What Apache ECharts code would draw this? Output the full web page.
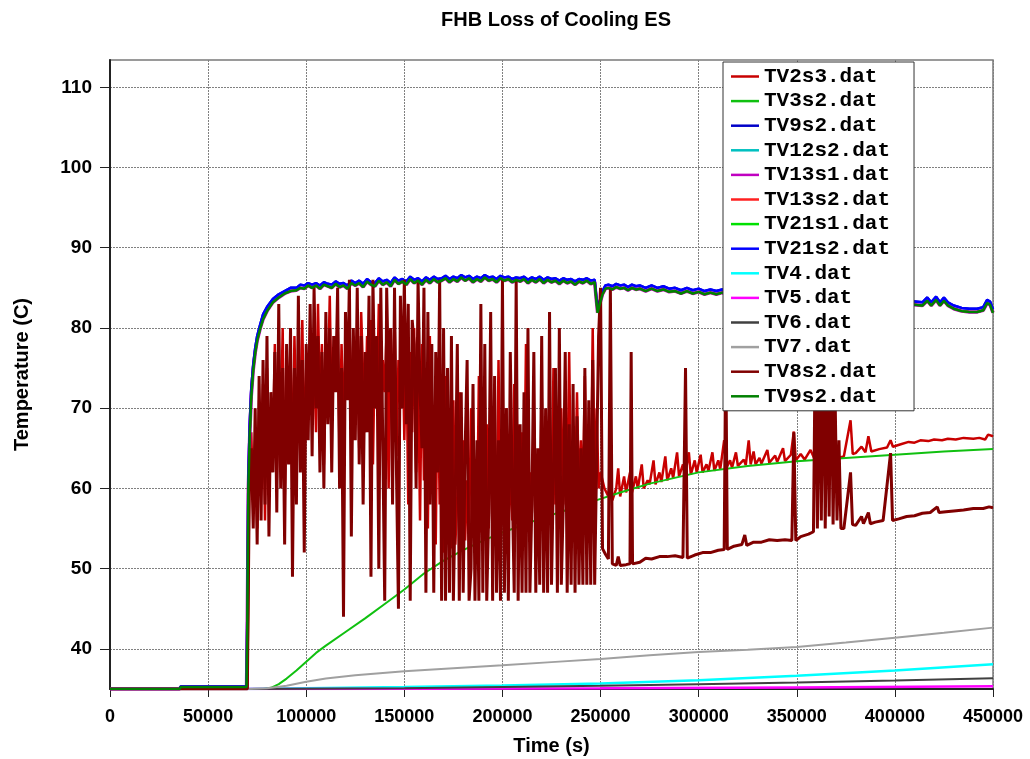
<!DOCTYPE html>
<html><head><meta charset="utf-8">
<script src="https://cdn.jsdelivr.net/npm/echarts@6/dist/echarts.min.js"></script>
<style>html,body{margin:0;padding:0;background:#fff}#c{width:1030px;height:759px}</style>
</head><body><div id="c"></div>
<script>
// ---------------- DATA ----------------
const titleText = 'FHB Loss of Cooling ES';
const xName = 'Time (s)';
const yName = 'Temperature (C)';
const yTicks = [40, 50, 60, 70, 80, 90, 100, 110];

const seriesNames = ['TV2s3.dat','TV3s2.dat','TV9s2.dat','TV12s2.dat','TV13s1.dat','TV13s2.dat','TV21s1.dat','TV21s2.dat','TV4.dat','TV5.dat','TV6.dat','TV7.dat','TV8s2.dat','TV9s2.dat '];
const seriesColors = ['#c80000','#10c010','#0000c8','#00c0c0','#c000c0','#ff2020','#00e000','#0000ff','#00ffff','#ff00ff','#404040','#a0a0a0','#800000','#008000'];

// upper edge of the ~85 C cluster (blue curves)
const clusterHigh = [[0,35.0],[35500,35.0],[36000,35.3],[69600,35.3],[70000,45],[70500,61.5],[71200,68],[72000,72.5],[73000,75.5],[74000,77.5],[75000,79],[76500,80.4],[78000,81.7],[80000,82.6],[83000,83.6],[86000,84.2],[89000,84.6],[92000,85.0],[95000,85.0],[97000,85.4],[99000,85.3],[101000,85.6],[103000,85.4],[105000,85.6],[107000,85.3],[109000,85.7],[111000,85.5],[113000,85.4],[115000,85.8],[117000,85.5],[119000,85.6],[121000,85.3],[123000,85.9],[125000,85.6],[127000,85.9],[129000,85.5],[131000,86.1],[133000,85.7],[135000,85.6],[137000,86.2],[139000,85.8],[141000,86.0],[143000,85.6],[145000,86.3],[147000,85.9],[149000,86.1],[151000,85.8],[153000,86.4],[155000,86.0],[157000,86.2],[159000,85.8],[161000,86.3],[163000,86.0],[165000,86.4],[167000,86.1],[169000,86.2],[171000,86.5],[173000,86.1],[175000,86.4],[177000,86.2],[179000,86.6],[181000,86.3],[183000,86.5],[185000,86.1],[187000,86.4],[189000,86.2],[191000,86.6],[193000,86.3],[195000,86.4],[197000,86.1],[199000,86.5],[201000,86.3],[203000,86.4],[205000,86.1],[207000,86.3],[209000,86.2],[211000,86.4],[213000,86.0],[215000,86.3],[217000,86.1],[219000,86.4],[221000,86.0],[223000,86.3],[225000,86.1],[227000,86.2],[229000,85.9],[231000,86.2],[233000,86.0],[235000,86.1],[237000,85.8],[239000,86.1],[241000,86.0],[243000,86.2],[245000,85.9],[247000,86.0],[247800,84],[248500,82.3],[249500,83.3],[251000,84.6],[252500,85.3],[254000,85.4],[256000,85.2],[258000,85.5],[260000,85.3],[262000,85.4],[264000,85.1],[266000,85.4],[268000,85.2],[270000,85.3],[273000,85.0],[276000,85.3],[279000,85.0],[282000,85.2],[285000,84.9],[288000,85.0],[291000,84.7],[294000,85.0],[297000,84.7],[300000,84.9],[303000,84.6],[306000,84.8],[309000,84.6],[312000,84.8],[315000,84.5],[318000,84.7],[321000,84.5],[324000,84.6],[327000,84.4],[330000,84.6],[335000,84.3],[340000,84.4],[345000,84.2],[350000,84.3],[355000,84.0],[360000,84.2],[365000,83.9],[370000,84.0],[375000,83.8],[380000,83.8],[385000,83.6],[390000,83.6],[395000,83.5],[400000,83.4],[405000,83.3],[410000,83.3],[414000,83.2],[416500,83.8],[418500,83.2],[421000,83.9],[423000,83.2],[425000,83.8],[427000,83.2],[430000,82.8],[434000,82.5],[438000,82.4],[442000,82.4],[445000,82.6],[447000,83.5],[448500,83.3],[450000,82.3]];

// lower edge of the ~85 C cluster (green / red / magenta curves)
const clusterLow = [[0,35.0],[35500,35.0],[36000,35.25],[69600,35.25],[70000,44],[70500,60],[71200,66.5],[72000,71.5],[73000,74.8],[74000,76.9],[75000,78.4],[76500,79.9],[78000,81.1],[80000,82.1],[83000,83.2],[86000,83.8],[89000,84.3],[92000,84.6],[95000,84.7],[97000,85.0],[99000,84.9],[101000,85.3],[103000,85.0],[105000,85.3],[107000,84.9],[109000,85.4],[111000,85.2],[113000,85.0],[115000,85.5],[117000,85.1],[119000,85.3],[121000,84.9],[123000,85.6],[125000,85.3],[127000,85.6],[129000,85.1],[131000,85.8],[133000,85.4],[135000,85.2],[137000,85.9],[139000,85.4],[141000,85.7],[143000,85.2],[145000,86.0],[147000,85.5],[149000,85.8],[151000,85.4],[153000,86.1],[155000,85.6],[157000,85.9],[159000,85.4],[161000,86.0],[163000,85.6],[165000,86.1],[167000,85.7],[169000,85.9],[171000,86.2],[173000,85.7],[175000,86.1],[177000,85.8],[179000,86.3],[181000,85.9],[183000,86.2],[185000,85.7],[187000,86.1],[189000,85.8],[191000,86.3],[193000,85.9],[195000,86.1],[197000,85.7],[199000,86.2],[201000,85.9],[203000,86.1],[205000,85.7],[207000,86.0],[209000,85.8],[211000,86.1],[213000,85.6],[215000,86.0],[217000,85.7],[219000,86.1],[221000,85.6],[223000,86.0],[225000,85.7],[227000,85.9],[229000,85.5],[231000,85.9],[233000,85.6],[235000,85.8],[237000,85.4],[239000,85.8],[241000,85.6],[243000,85.9],[245000,85.5],[247000,85.7],[247800,83.6],[248500,81.9],[249500,82.9],[251000,84.2],[252500,84.9],[254000,85.0],[256000,84.8],[258000,85.1],[260000,84.9],[262000,85.0],[264000,84.7],[266000,85.0],[268000,84.8],[270000,84.9],[273000,84.6],[276000,84.9],[279000,84.6],[282000,84.8],[285000,84.5],[288000,84.6],[291000,84.3],[294000,84.6],[297000,84.3],[300000,84.5],[303000,84.2],[306000,84.4],[309000,84.2],[312000,84.4],[315000,84.1],[318000,84.3],[321000,84.1],[324000,84.2],[327000,84.0],[330000,84.2],[335000,83.9],[340000,84.0],[345000,83.8],[350000,83.9],[355000,83.6],[360000,83.8],[365000,83.5],[370000,83.6],[375000,83.4],[380000,83.4],[385000,83.2],[390000,83.2],[395000,83.1],[400000,83.0],[405000,82.9],[410000,82.9],[414000,82.8],[416500,83.4],[418500,82.8],[421000,83.5],[423000,82.8],[425000,83.4],[427000,82.8],[430000,82.4],[434000,82.1],[438000,82.0],[442000,82.0],[445000,82.2],[447000,83.1],[448500,82.9],[450000,81.9]];

// oscillating part of TV2s3 and TV8s2: one reading every 1000 s from 71000 s to 250000 s
const noisyStart = 71000, noisyStep = 1000;
const tv2s3Noisy = [
62,67,58,66,55,71,60,73,56,75, 59,70,64,78,61,74,66,80,58,73, 65,77,61,79,67,74,70,81,64,75,
69,80,72,76,67,83,70,78,63,75, 72,84,68,76,74,81,64,78,69,77, 73,82,66,79,71,80,65,82,74,67,
79,72,81,63,78,70,83,66,76,72, 80,60,78,68,82,64,76,70,81,66, 79,58,77,67,80,62,75,56,78,61,
73,55,79,60,70,53,76,58,68,52, 74,53,64,52.5,71,53,59,72,53.5,66, 53.5,61,54,70,54,60,54,74,54.5,63,
54.5,68,55,72,55,61,55,76,55.5,64, 55.5,70,55.5,62,56,73,56,60,56,67, 56.5,78,56.5,62,57,70,57,61,57,72,
57.5,63,57.5,68,57.5,75,58,62,58,70, 58,64,58.5,77,58.5,63,58.5,72,59,66, 59,74,59,64,59.5,80,59.5,70,60,62];
const tv8s2Noisy = [
60,65,55,70,53,74,56,76,58,79, 54,72,62,77,57,83,60,75,53,78, 63,80,49,75,58,84,62,76,52,78,
66,83,64,85,70,79,62,77,60,82, 68,80,62,79,72,85,60,75,44,82, 71,86,54,80,66,85,63,79,58,77,
67,84,49,86,70,79,50,85,66,46, 85,72,80,58,85,62,45,84,70,86, 68,83,46,81,78,60,86,72,65,85,
47,82,58,78,47,77,62,86,46,80, 46,75,47,79,46,60,78,46,72,47, 65,76,46,50,73,46,66,46,83,47,
78,46,57,82,46,74,47,66,46,86, 47,70,46,77,60,47,86,46,68,47, 72,47,80,47,58,77,47,65,48,79,
47,70,47,82,48,62,75,47,80,48, 58,77,47,68,48,73,47,69,48,65, 48,75,48,71,48,76,48,48,79,85];

const tvFlatStart = [[0,35.0],[70000,35.0]];

const tv2s3Tail = [[251000,61],[252000,60],[254000,59],[255000,62],[256000,58.5],[258000,60],[259000,62.5],[260000,59],[262000,61.5],[263000,59.5],[265000,62],[266000,59.5],[268000,61.5],[269000,60],[271000,63],[272000,60],[274000,61],[275000,60.5],[277000,63.5],[278000,60.5],[280000,62],[281000,60.8],[283000,64],[284000,61],[286000,62.5],[287000,61.3],[289000,64.5],[290000,61.5],[292000,63],[293000,61.5],[295000,64.5],[296000,61.7],[298000,63.5],[299000,62],[301000,64.2],[302000,62],[304000,63],[305000,62.2],[307000,64.5],[308000,62.2],[310000,63.5],[311000,62.4],[313000,66],[314000,62.5],[316000,63.5],[317000,62.6],[319000,64.5],[320000,62.8],[323000,63.6],[324000,62.9],[325500,66],[326500,63],[328000,64.6],[329000,63],[331000,63.8],[332000,63.1],[335000,64.8],[336000,63.2],[339000,64.1],[340000,63.3],[343000,65],[344000,63.4],[347000,64.2],[348500,67.1],[349500,63.5],[352000,64.3],[354000,63.6],[357000,64.8],[359000,63.7],[362000,64.5],[365000,63.8],[368000,64.2],[371000,63.8],[374000,64.0],[377400,68.5],[378500,64.3],[380000,64.4],[383000,65.2],[385000,64.5],[386500,66.5],[388000,64.6],[392000,64.9],[396000,65.1],[397800,66],[399000,65.2],[403000,65.5],[407000,65.8],[410000,65.7],[413000,66.0],[417000,65.9],[420000,66.1],[424000,66.0],[427000,66.2],[431000,66.1],[435000,66.3],[440000,66.2],[443000,66.3],[446000,66.1],[447500,66.7],[450000,66.5]];

const tv8s2Tail = [[251000,52.5],[252500,51.8],[254000,51.2],[255000,85],[256000,50.6],[258000,50.4],[259000,51.5],[260000,50.4],[263000,50.5],[265000,50.6],[265600,77],[266300,50.6],[270000,50.8],[273000,51.3],[276000,51.2],[280000,51.5],[284000,51.5],[288000,51.6],[292000,51.4],[293300,75],[294200,51.3],[298000,51.7],[302000,52],[306000,52],[310000,52.3],[313000,52.4],[313800,78],[314600,52.4],[318000,52.8],[322000,53],[323500,54.2],[324500,52.9],[328000,53.3],[332000,53.3],[336000,53.6],[340000,53.5],[344000,53.6],[347500,53.5],[348500,67],[349500,53.5],[352000,54],[356000,54.3],[358500,54.6],[359500,80],[360500,55],[361500,78],[362500,56],[363500,82],[364500,55],[365500,76],[366500,56.5],[367500,80],[368500,55.5],[369500,72],[370500,56],[371500,66],[372500,55],[374000,55],[377400,62],[378400,55.5],[380000,55.4],[383000,56.5],[384000,55.6],[386500,57],[387500,55.6],[390000,55.8],[394000,56],[397800,64.4],[398800,56],[402000,56.2],[406000,56.5],[410000,56.6],[414000,56.9],[418000,57],[421600,57.7],[422500,57],[426000,57.1],[430000,57.2],[435000,57.3],[440000,57.5],[445000,57.5],[448000,57.7],[450000,57.6]];

const tv3s2 = [[0,35],[78000,35],[82000,35.15],[86000,35.6],[90000,36.3],[95000,37.3],[100000,38.4],[105000,39.5],[110000,40.4],[120000,42.1],[130000,43.8],[140000,45.6],[150000,47.4],[160000,49.4],[170000,51.0],[180000,52.3],[190000,53.5],[200000,54.5],[210000,55.4],[220000,56.3],[230000,57.1],[240000,57.9],[250000,58.7],[260000,59.5],[275000,60.6],[300000,62.0],[325000,62.8],[350000,63.4],[375000,63.8],[400000,64.2],[425000,64.6],[450000,64.9]];
const tv4 = [[0,35],[70000,35],[100000,35.1],[150000,35.25],[200000,35.45],[250000,35.7],[300000,36.1],[350000,36.65],[400000,37.3],[450000,38.1]];
const tv5 = [[0,35],[70000,35],[150000,35.02],[250000,35.1],[350000,35.2],[450000,35.35]];
const tv6 = [[0,35],[70000,35],[150000,35.1],[200000,35.25],[250000,35.4],[300000,35.6],[350000,35.8],[400000,36.05],[450000,36.35]];
const tv7 = [[0,35],[70000,35],[80000,35.1],[90000,35.4],[100000,35.9],[110000,36.3],[125000,36.7],[150000,37.2],[175000,37.6],[200000,37.95],[225000,38.35],[250000,38.75],[275000,39.2],[300000,39.6],[325000,39.9],[350000,40.25],[375000,40.8],[400000,41.4],[425000,42.0],[450000,42.65]];

// ---------------- BUILD ----------------
function noisy(arr) { return arr.map((v, i) => [noisyStart + i * noisyStep, v]); }
const tv2s3 = tvFlatStart.concat(noisy(tv2s3Noisy), tv2s3Tail);
const tv8s2 = tvFlatStart.concat(noisy(tv8s2Noisy), tv8s2Tail);

const seriesData = [tv2s3, tv3s2, clusterHigh, clusterLow, clusterLow, clusterLow, clusterLow, clusterHigh, tv4, tv5, tv6, tv7, tv8s2, clusterLow];
const seriesWidths = [2.5, 2, 2.5, 2, 3.5, 2, 2, 2.5, 2.5, 2.5, 2, 2, 3, 2.5];

const chart = echarts.init(document.getElementById('c'), null, { renderer: 'canvas' });
const axisFont = 'Liberation Sans, Arial, sans-serif';
chart.setOption({
  animation: false,
  backgroundColor: '#ffffff',
  title: {
    text: titleText, left: 551, top: 5, textAlign: 'center',
    textStyle: { fontFamily: axisFont, fontWeight: 'bold', fontSize: 20, color: '#000' }
  },
  grid: { left: 110, right: 37, top: 60, bottom: 70, show: true, borderColor: '#7a7a7a', borderWidth: 1.5, backgroundColor: 'transparent', outerBoundsMode: 'none', containLabel: false },
  legend: {
    orient: 'vertical', left: 723, top: 62,
    backgroundColor: '#ffffff', borderColor: '#333', borderWidth: 1,
    padding: [4, 24, 4, 8], itemGap: 3.6, itemWidth: 28, itemHeight: 2.5,
    icon: 'rect',
    data: seriesNames,
    textStyle: { fontFamily: 'Liberation Mono, Courier New, monospace', fontWeight: 'bold', fontSize: 21, lineHeight: 20, color: '#000' },
    selectedMode: false
  },
  xAxis: {
    type: 'value', min: 0, max: 450000, interval: 50000,
    name: xName, nameLocation: 'middle', nameGap: 47,
    nameTextStyle: { fontFamily: axisFont, fontWeight: 'bold', fontSize: 20, color: '#000' },
    axisLine: { show: true, lineStyle: { color: '#222', width: 2 } },
    axisTick: { show: true, length: 8, lineStyle: { color: '#222', width: 1 } },
    axisLabel: { margin: 19, formatter: v => String(v), fontFamily: axisFont, fontWeight: 'bold', fontSize: 18, color: '#000' },
    splitLine: { show: true, lineStyle: { color: '#808080', type: [2, 1], width: 1 } }
  },
  yAxis: {
    type: 'value', min: 35, max: 113.4,
    name: yName, nameLocation: 'middle', nameGap: 78, nameRotate: 90,
    nameTextStyle: { fontFamily: axisFont, fontWeight: 'bold', fontSize: 20, color: '#000' },
    axisLine: { show: true, lineStyle: { color: '#222', width: 2 } },
    axisTick: { show: true, length: 10, customValues: yTicks, lineStyle: { color: '#222', width: 1 } },
    axisLabel: { margin: 18, customValues: yTicks, formatter: v => String(v), fontFamily: axisFont, fontWeight: 'bold', fontSize: 19, color: '#000' },
    splitLine: { show: true, lineStyle: { color: '#808080', type: [2, 1], width: 1 } }
  },
  series: seriesNames.map((n, i) => ({
    name: n, type: 'line', data: seriesData[i], symbol: 'none', showSymbol: false,
    color: seriesColors[i],
    lineStyle: { color: seriesColors[i], width: seriesWidths[i] },
    emphasis: { disabled: true }, silent: true, z: 2
  }))
});
</script></body></html>
